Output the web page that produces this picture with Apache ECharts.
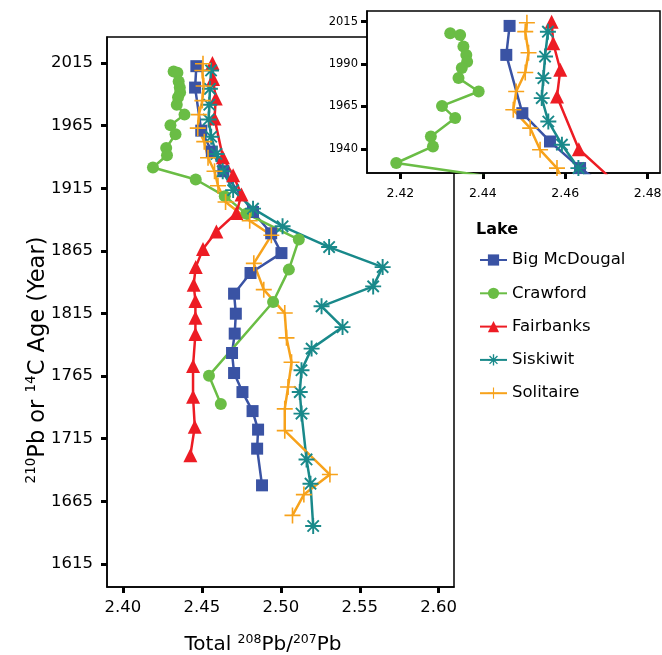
<!DOCTYPE html>
<html>
<head>
<meta charset="utf-8">
<script src="https://cdn.jsdelivr.net/npm/echarts@6/dist/echarts.min.js"></script>
<style>
html, body { margin: 0; padding: 0; background: #fff; }
#main { width: 662px; height: 655px; }
</style>
</head>
<body>
<div id="main"></div>
<script>
// lakes, in legend order
var lakes = ['Big McDougal', 'Crawford', 'Fairbanks', 'Siskiwit', 'Solitaire'];

// total 208Pb/207Pb against 210Pb / 14C age (year)
var bigMcDougalYear = [2012.5, 1995.4, 1961.0, 1944.3, 1928.6, 1896.0, 1879.0, 1863.2, 1847.3, 1830.8, 1814.8, 1798.9, 1783.4, 1767.4, 1752.2, 1737.0, 1722.2, 1707.0, 1677.7];
var bigMcDougalPb = [2.4465, 2.4457, 2.4496, 2.4563, 2.4636, 2.4824, 2.4939, 2.5004, 2.4808, 2.4704, 2.4715, 2.4708, 2.4691, 2.4704, 2.4757, 2.4821, 2.4856, 2.4850, 2.4881];

var crawfordYear = [2008.2, 2007.2, 2000.3, 1995.4, 1991.4, 1987.6, 1981.7, 1973.8, 1965.3, 1958.1, 1947.2, 1941.4, 1931.6, 1922.0, 1908.7, 1894.7, 1874.0, 1850.0, 1824.1, 1765.3, 1742.7];
var crawfordPb = [2.4321, 2.4345, 2.4353, 2.4360, 2.4362, 2.4349, 2.4341, 2.4390, 2.4301, 2.4333, 2.4274, 2.4279, 2.4190, 2.4461, 2.4645, 2.4782, 2.5114, 2.5051, 2.4951, 2.4545, 2.4620];

var fairbanksYear = [2015.0, 2002.3, 1986.6, 1970.8, 1939.7, 1925.3, 1910.0, 1895.2, 1880.5, 1866.5, 1852.0, 1838.0, 1825.0, 1811.5, 1798.5, 1773.0, 1748.5, 1724.5, 1701.7];
var fairbanksPb = [2.4567, 2.4571, 2.4588, 2.4580, 2.4633, 2.4698, 2.4751, 2.4719, 2.4592, 2.4507, 2.4461, 2.4448, 2.4459, 2.4459, 2.4459, 2.4444, 2.4444, 2.4455, 2.4427];

var siskiwitYear = [2009.1, 1994.4, 1981.7, 1969.9, 1956.1, 1942.4, 1928.6, 1913.5, 1898.7, 1884.6, 1868.0, 1852.0, 1836.6, 1820.7, 1804.1, 1786.9, 1769.6, 1752.2, 1735.0, 1698.4, 1679.0, 1645.2];
var siskiwitPb = [2.4558, 2.4551, 2.4547, 2.4543, 2.4559, 2.4592, 2.4632, 2.4698, 2.4824, 2.5011, 2.5306, 2.5645, 2.5585, 2.5258, 2.5391, 2.5195, 2.5131, 2.5120, 2.5131, 2.5163, 2.5188, 2.5205];

var solitaireYear = [2014.4, 2009.1, 1996.7, 1985.0, 1973.8, 1963.0, 1952.2, 1939.4, 1928.6, 1917.0, 1904.0, 1889.0, 1877.4, 1855.0, 1834.0, 1815.3, 1795.5, 1776.0, 1756.2, 1738.8, 1721.4, 1686.3, 1670.3, 1653.7];
var solitairePb = [2.4507, 2.4503, 2.4511, 2.4503, 2.4481, 2.4474, 2.4515, 2.4539, 2.4580, 2.4602, 2.4650, 2.4803, 2.4940, 2.4829, 2.4892, 2.5025, 2.5036, 2.5068, 2.5046, 2.5025, 2.5025, 2.5311, 2.5146, 2.5074];

// tick labels
var mainXTicks = [2.40, 2.45, 2.50, 2.55, 2.60];
var mainYTicks = [1615, 1665, 1715, 1765, 1815, 1865, 1915, 1965, 2015];
var insetXTicks = [2.42, 2.44, 2.46, 2.48];
var insetYTicks = [1940, 1965, 1990, 2015];

var FONT = 'DejaVu Sans';
var colors = ['#3a53a4', '#6abd45', '#ed1c24', '#19898a', '#f7a21b'];
var ASTERISK = 'path://M-10,-1.2L10,-1.2L10,1.2L-10,1.2Z' +
    'M-1.2,-10L1.2,-10L1.2,10L-1.2,10Z' +
    'M-6.22,-7.92L7.92,6.22L6.22,7.92L-7.92,-6.22Z' +
    'M-6.22,7.92L-7.92,6.22L6.22,-7.92L7.92,-6.22Z';
var PLUS = 'path://M-10,-1L10,-1L10,1L-10,1ZM-1,-10L1,-10L1,10L-1,10Z';
var symbols = ['rect', 'circle', 'triangle', ASTERISK, PLUS];
var symbolSizes = [12, 12, 14, 16, 16];

var pbData = [bigMcDougalPb, crawfordPb, fairbanksPb, siskiwitPb, solitairePb];
var yearData = [bigMcDougalYear, crawfordYear, fairbanksYear, siskiwitYear, solitaireYear];

function pairs(pb, yr) {
    return pb.map(function (v, i) { return [v, yr[i]]; });
}

// same series twice: main panel (grid 0) and the zoomed inset (grid 1)
var series = [];
[0, 1].forEach(function (g) {
    lakes.forEach(function (name, i) {
        series.push({
            name: name,
            type: 'line',
            xAxisIndex: g,
            yAxisIndex: g,
            z: g ? 12 : 2,
            data: pairs(pbData[i], yearData[i]),
            symbol: symbols[i],
            symbolSize: symbolSizes[i],
            lineStyle: { color: colors[i], width: 2.5 },
            itemStyle: { color: colors[i] },
            clip: true
        });
    });
});

function axisBits(ticks, fmt, size, margin) {
    return {
        axisLine: { show: true, onZero: false, lineStyle: { color: '#000', width: 1.5 } },
        axisTick: { show: true, length: 6, customValues: ticks, lineStyle: { color: '#000', width: 3 } },
        axisLabel: { customValues: ticks, formatter: fmt, color: '#000', fontSize: size, fontFamily: FONT, margin: margin },
        splitLine: { show: false }
    };
}

function fmt2(v) { return v.toFixed(2); }
function fmtYear(v) { return String(v); }

function richFor(big, small) {
    return {
        n: { fontSize: big, fontFamily: FONT, color: '#000', lineHeight: big + 4 },
        s: { fontSize: small, fontFamily: FONT, color: '#000', verticalAlign: 'top' }
    };
}

var myChart = echarts.init(document.getElementById('main'));
myChart.setOption({
    animation: false,
    textStyle: { fontFamily: FONT },
    title: {
        text: 'Lake',
        left: 471,
        top: 217,
        textStyle: { fontSize: 16, fontWeight: 'bold', color: '#000', fontFamily: FONT }
    },
    legend: {
        orient: 'vertical',
        left: 474,
        top: 246.5,
        itemWidth: 27,
        itemHeight: 14,
        itemGap: 16.3,
        textStyle: { fontSize: 16.5, color: '#000', fontFamily: FONT },
        data: lakes
    },
    grid: [
        { left: 107, top: 37, width: 347, height: 550, show: true, borderColor: '#000', borderWidth: 1.5, z: 0, outerBoundsMode: 'none', containLabel: false },
        { left: 367, top: 11, width: 293, height: 162, show: true, backgroundColor: '#fff', borderColor: '#000', borderWidth: 1.5, z: 10, outerBoundsMode: 'none', containLabel: false }
    ],
    xAxis: [
        Object.assign({
            type: 'value', gridIndex: 0, min: 2.3899, max: 2.6097, z: 1,
            name: '{n|Total }{s|208}{n|Pb/}{s|207}{n|Pb}',
            nameLocation: 'middle',
            nameGap: 46,
            nameMoveOverlap: false,
            nameTextStyle: { rich: richFor(20, 12.5), padding: [0, 35, 0, 0] }
        }, axisBits(mainXTicks, fmt2, 16.5, 12)),
        Object.assign({
            type: 'value', gridIndex: 1, min: 2.4119, max: 2.483, z: 11
        }, axisBits(insetXTicks, fmt2, 12.5, 14))
    ],
    yAxis: [
        Object.assign({
            type: 'value', gridIndex: 0, min: 1596.5, max: 2035.8, z: 1,
            name: '{s|210}{n|Pb or }{s|14}{n|C Age (Year)}',
            nameLocation: 'middle',
            nameGap: 56,
            nameMoveOverlap: false,
            nameTextStyle: { rich: richFor(22.5, 13.5), padding: [0, 96, 0, 0] }
        }, axisBits(mainYTicks, fmtYear, 16.5, 14)),
        Object.assign({
            type: 'value', gridIndex: 1, min: 1925.7, max: 2021.3, z: 11
        }, axisBits(insetYTicks, fmtYear, 11.5, 9))
    ],
    series: series
});
</script>
</body>
</html>
